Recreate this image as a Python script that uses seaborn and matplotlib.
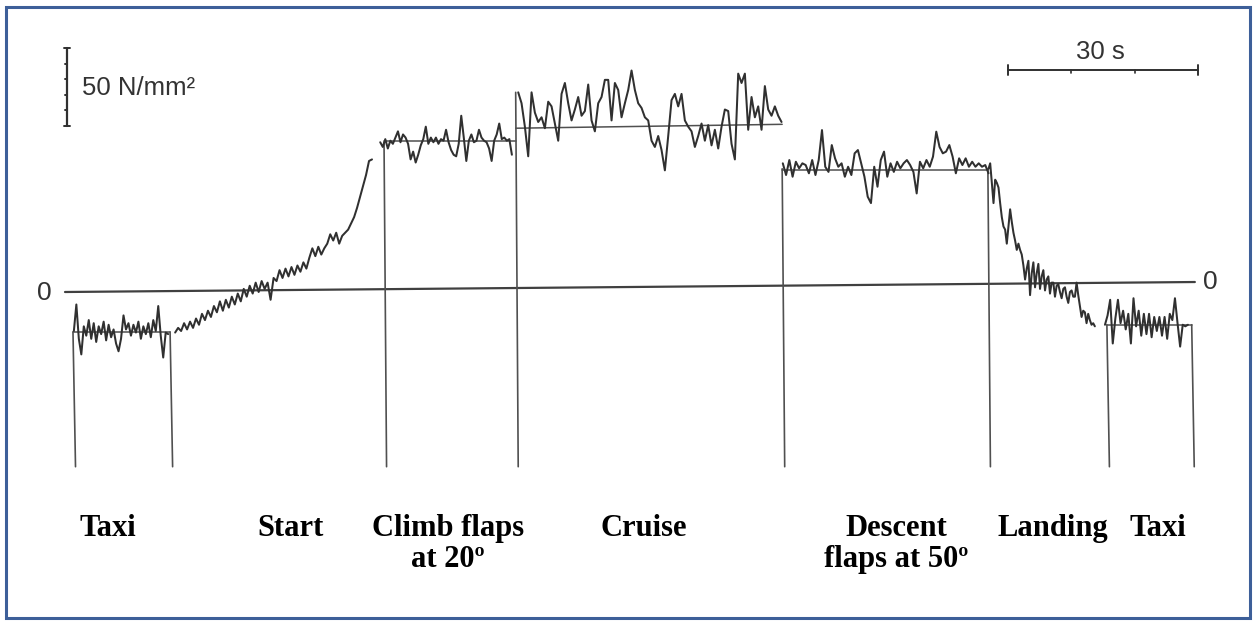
import numpy as np
import matplotlib
matplotlib.use("Agg")
import matplotlib.pyplot as plt
import seaborn as sns
from matplotlib.patches import Rectangle

sns.set_style("white")
plt.rcParams['font.family'] = ['Liberation Sans', 'DejaVu Sans']

# ---------------- data (time in s, stress in N/mm^2) ----------------
taxi1_span = (0.3, 15.2)
taxi1_stress = [-25, -8, -30, -40, -22, -28, -18, -30, -20, -32, -22, -27, -19, -31,
                -21, -29, -24, -33, -38, -30, -15, -24, -20, -28, -21, -26, -19, -30,
                -22, -27, -20, -29, -18, -25, -9, -28, -42, -26, -27]

start_span = (16.3, 47.4)
start_stress = [-26, -23, -25, -20, -24, -19, -23, -17, -21, -14, -18, -12, -16, -9,
                -13, -6, -12, -5, -10, -3, -8, -1, -6, 2, -3, 4, -1, 6, 0, 7, 2, 6,
                -5, 9, 7, 14, 9, 15, 10, 16, 11, 17, 13, 19, 15, 22, 28, 23, 29, 24,
                28, 31, 37, 33, 38, 31, 36, 38, 40, 44, 48, 54, 61, 68, 75, 84, 85]

climb_span = (48.7, 69.5)
climb_stress = [96, 93, 98, 92, 97, 95, 99, 103, 96, 101, 99, 95, 85, 90, 83, 88, 94,
                98, 106, 95, 99, 96, 99, 95, 98, 97, 104, 96, 91, 88, 87, 95, 113, 99,
                84, 97, 101, 96, 97, 104, 99, 97, 96, 92, 84, 97, 101, 108, 98, 99, 97,
                98, 88]

cruise_span = (70.5, 112.1)
cruise_stress = [128, 121, 106, 87, 128, 115, 109, 112, 105, 122, 119, 108, 97, 127,
                 134, 121, 110, 117, 125, 113, 116, 133, 110, 103, 121, 125, 136, 136,
                 110, 134, 129.5, 112, 121, 129.5, 142, 129.5, 121, 118, 112, 110, 97,
                 93, 100, 91, 78, 100, 123, 127, 119, 127, 110, 106, 103, 93, 100, 108,
                 97, 107, 94, 104, 92, 106, 117, 116, 95, 85, 140, 134, 140, 104, 125,
                 112, 119, 104, 132, 117, 113, 119, 113, 109]

descent_span = (112.3, 144.8)
descent_stress = [82.5, 75, 84.6, 73.9, 83.5, 79.3, 82.5, 81.4, 76.1, 84.6, 75, 84.6,
                  103.8, 80.3, 77, 94.2, 85.7, 80.3, 82.5, 73.9, 80.3, 75, 88.9, 91,
                  82.5, 73.9, 61.1, 57, 80.3, 67.5, 84.6, 90, 73.9, 82.5, 77, 83.5,
                  79.3, 82.5, 84.6, 81.4, 77, 63.2, 83.5, 79.3, 84.6, 80.3, 86.8,
                  102.8, 93, 88.9, 90, 94.2, 86.8, 76.1, 85.7, 81.4, 85.7, 80.3, 83.5,
                  80.3, 82.5, 80.3, 81.4, 76.1]

landing_span = (144.8, 161.6)
landing_stress = [79, 82.5, 70, 57, 72, 70, 67, 57, 48, 42, 40, 31, 42, 53, 45, 38, 33,
                  27, 31, 27, 24, 17, 8, 15, 20, -2, 12, 19, 3, 12, 18, 2, 10, 14, 1, 8,
                  10, -1, 6, 6, -3, 4, 5, 0, -4, 2, 3, -3, -7, 0, 1, -3, -3, 6, -2, -9,
                  -16, -12, -13, -20, -14, -18, -21, -20, -22]

taxi2_span = (163.2, 176.3)
taxi2_stress = [-21, -15, -5, -33, -17, -5, -20, -12, -24, -14, -33, -4, -22, -12, -28,
                -14, -27, -14, -29, -16, -25, -16, -28, -16, -30, -14, -18, -4, -20,
                -35, -21, -22, -21]

# phase boxes: boundaries (s) and mean levels (N/mm^2)
divider_t = [0.16, 15.5, 49.3, 70.1, 112.2, 144.7, 163.5, 176.9]
divider_top = [-25.6, -25.6, 96, 128, 79, 79, -21, -21]
divider_bottom = -112
mean_start_t = [0.16, 49.3, 70.1, 112.2, 163.5]
mean_end_t = [15.5, 70.1, 112.2, 144.7, 176.9]
mean_start_level = [-25.6, 96.5, 105, 78.5, -21]
mean_end_level = [-25.6, 96.5, 107.5, 78.5, -21]

zero_t = [-1.1, 177.4]
zero_level = [0, 6.4]

phase_labels = ["Taxi", "Start", "Climb flaps\nat 20º", "Cruise",
                "Descent\nflaps at 50º", "Landing", "Taxi"]
phase_label_t = [5.7, 34.5, 59.4, 90.3, 130.2, 155.0, 171.5]

stress_bar = (106.4, 156.4)   # 50 N/mm^2
time_bar = (147.9, 177.9)     # 30 s

# ---------------- figure ----------------
W, H, DPI = 1255, 623, 100
fig = plt.figure(figsize=(W / DPI, H / DPI), dpi=DPI)
ax = fig.add_axes([0, 0, 1, 1])
ax.set_xlim(-11.37, 186.9)
ax.set_ylim(-212.2, 187.2)
ax.axis("off")

trace_c = "#303030"
box_c = "#505050"

# zero line
sns.lineplot(x=zero_t, y=zero_level, ax=ax, color="#404040", lw=1.6, legend=False)

# phase boxes
for t, top in zip(divider_t, divider_top):
    ax.plot([t, t + 0.4], [top, divider_bottom], color=box_c, lw=1.2)
for t0, t1, l0, l1 in zip(mean_start_t, mean_end_t, mean_start_level, mean_end_level):
    ax.plot([t0, t1], [l0, l1], color=box_c, lw=1.1)

# traces
for span, vals in [(taxi1_span, taxi1_stress), (start_span, start_stress),
                   (climb_span, climb_stress), (cruise_span, cruise_stress),
                   (descent_span, descent_stress), (landing_span, landing_stress),
                   (taxi2_span, taxi2_stress)]:
    t = np.linspace(span[0], span[1], len(vals))
    sns.lineplot(x=t, y=vals, ax=ax, color=trace_c, lw=1.45, sort=False,
                 estimator=None, legend=False)

# stress scale bar
bx = -0.8
ax.plot([bx, bx], stress_bar, color=trace_c, lw=1.6)
for s in np.arange(stress_bar[0], stress_bar[1] + 0.1, 10):
    end = s in stress_bar
    ax.plot([bx - (0.45 if end else 0.3), bx + (0.45 if end else 0)], [s, s],
            color=trace_c, lw=1.4)
ax.text(1.6, 131, "50 N/mm²", fontsize=18.5, color="#333333", va="center", ha="left")

# time scale bar
by = 142.3
ax.plot(time_bar, [by, by], color=trace_c, lw=1.4)
for tt in time_bar:
    ax.plot([tt, tt], [by - 3.5, by + 3.5], color=trace_c, lw=1.4)
for tt in np.arange(time_bar[0] + 10, time_bar[1] - 1, 10):
    ax.plot([tt, tt], [by, by - 1.8], color=trace_c, lw=1.2)
ax.text(sum(time_bar) / 2 - 0.4, 153.8, "30 s", fontsize=18.5, color="#333333",
        va="center", ha="center")

# zero labels
ax.text(-4.3, -0.6, "0", fontsize=19, color="#333333", va="center", ha="center")
ax.text(179.8, 6.4, "0", fontsize=19, color="#333333", va="center", ha="center")

# phase labels
for lab, t in zip(phase_labels, phase_label_t):
    for i, line in enumerate(lab.split("\n")):
        ax.text(t, -156.5 - i * 19.5, line, fontsize=22, fontweight="bold",
                family=["Liberation Serif", "DejaVu Serif"], ha="center",
                va="baseline", color="black")

# blue frame
fig.patches.append(Rectangle((0.0048, 0.008), 0.9912, 0.981, transform=fig.transFigure,
                             fill=False, edgecolor="#3d5f99", lw=2.2))

fig.savefig("out.png", dpi=DPI)
